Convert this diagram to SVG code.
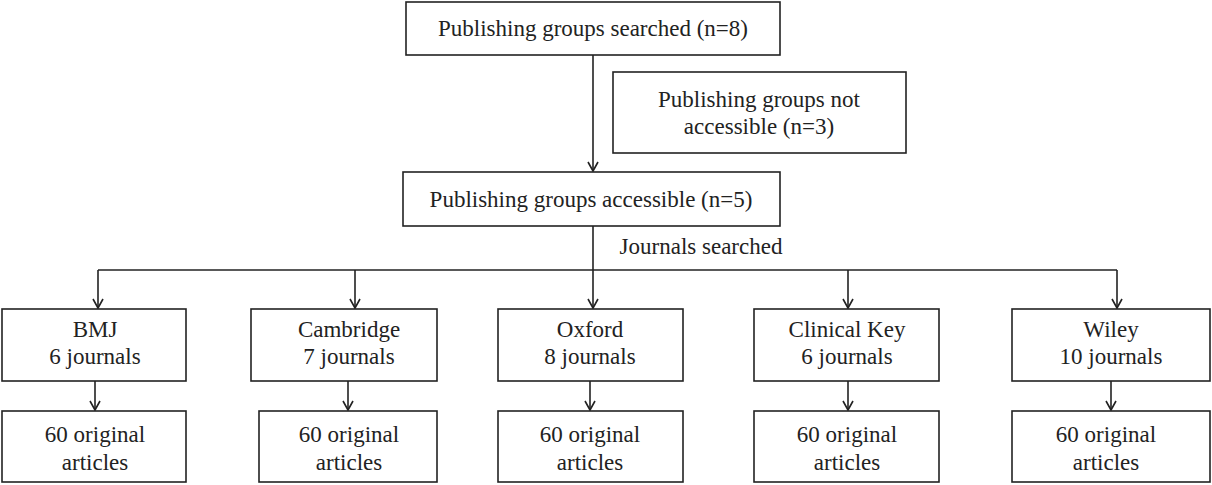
<svg xmlns="http://www.w3.org/2000/svg" width="1212" height="485" viewBox="0 0 1212 485">
<defs>
<marker id="ah" markerWidth="12" markerHeight="12" refX="10" refY="6" orient="auto" markerUnits="userSpaceOnUse">
<path d="M1,1 L10,6 L1,11" fill="none" stroke="#222" stroke-width="1.6"/>
</marker>
<style>
.b{fill:#fff;stroke:#222;stroke-width:1.6}
.t{font-family:"Liberation Serif",serif;font-size:23px;fill:#222;text-anchor:middle}
.c{stroke:#222;stroke-width:1.6;fill:none}
</style>
</defs>
<rect width="1212" height="485" fill="#fff"/>
<g id="connectors">
<line class="c" x1="593" y1="55" x2="593" y2="171" marker-end="url(#ah)"/>
<line class="c" x1="593" y1="226" x2="593" y2="270"/>
<line class="c" x1="98" y1="270" x2="1117" y2="270"/>
<line class="c" x1="98" y1="270" x2="98" y2="308" marker-end="url(#ah)"/>
<line class="c" x1="355" y1="270" x2="355" y2="308" marker-end="url(#ah)"/>
<line class="c" x1="593" y1="270" x2="593" y2="308" marker-end="url(#ah)"/>
<line class="c" x1="848" y1="270" x2="848" y2="308" marker-end="url(#ah)"/>
<line class="c" x1="1117" y1="270" x2="1117" y2="308" marker-end="url(#ah)"/>
<line class="c" x1="95" y1="381" x2="95" y2="410" marker-end="url(#ah)"/>
<line class="c" x1="348" y1="381" x2="348" y2="410" marker-end="url(#ah)"/>
<line class="c" x1="590" y1="381" x2="590" y2="410" marker-end="url(#ah)"/>
<line class="c" x1="848" y1="381" x2="848" y2="410" marker-end="url(#ah)"/>
<line class="c" x1="1111" y1="381" x2="1111" y2="410" marker-end="url(#ah)"/>
<text class="t" x="701" y="254">Journals searched</text>
</g>
<g id="n1"><rect class="b" x="406" y="2" width="374" height="53"/><text class="t" x="593" y="36">Publishing groups searched (n=8)</text></g>
<g id="n2"><rect class="b" x="613" y="72" width="293" height="81"/><text class="t" x="759" y="107">Publishing groups not</text><text class="t" x="759" y="134">accessible (n=3)</text></g>
<g id="n3"><rect class="b" x="403" y="172" width="377" height="54"/><text class="t" x="591" y="207">Publishing groups accessible (n=5)</text></g>
<g id="bmj"><rect class="b" x="2" y="309" width="184" height="72"/><text class="t" x="95" y="337">BMJ</text><text class="t" x="95" y="364">6 journals</text></g>
<g id="cam"><rect class="b" x="251" y="309" width="186" height="72"/><text class="t" x="349" y="337">Cambridge</text><text class="t" x="349" y="364">7 journals</text></g>
<g id="oxf"><rect class="b" x="498" y="309" width="185" height="72"/><text class="t" x="590" y="337">Oxford</text><text class="t" x="590" y="364">8 journals</text></g>
<g id="ck"><rect class="b" x="754" y="309" width="185" height="72"/><text class="t" x="847" y="337">Clinical Key</text><text class="t" x="847" y="364">6 journals</text></g>
<g id="wil"><rect class="b" x="1012" y="309" width="198" height="72"/><text class="t" x="1111" y="337">Wiley</text><text class="t" x="1111" y="364">10 journals</text></g>
<g id="a1"><rect class="b" x="2" y="411" width="184" height="71"/><text class="t" x="95" y="442">60 original</text><text class="t" x="95" y="470">articles</text></g>
<g id="a2"><rect class="b" x="259" y="411" width="178" height="71"/><text class="t" x="349" y="442">60 original</text><text class="t" x="349" y="470">articles</text></g>
<g id="a3"><rect class="b" x="498" y="411" width="185" height="71"/><text class="t" x="590" y="442">60 original</text><text class="t" x="590" y="470">articles</text></g>
<g id="a4"><rect class="b" x="754" y="411" width="185" height="71"/><text class="t" x="847" y="442">60 original</text><text class="t" x="847" y="470">articles</text></g>
<g id="a5"><rect class="b" x="1012" y="411" width="198" height="71"/><text class="t" x="1106" y="442">60 original</text><text class="t" x="1106" y="470">articles</text></g>
</svg>
